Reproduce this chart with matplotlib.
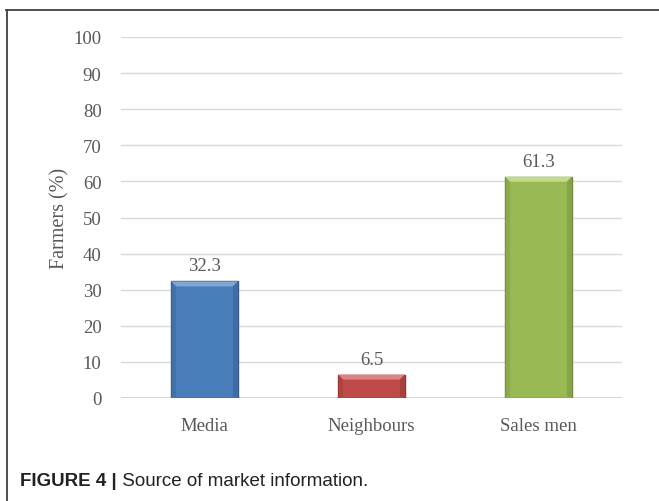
import matplotlib
matplotlib.use("Agg")
import matplotlib.pyplot as plt
from matplotlib.patches import Polygon
from matplotlib.lines import Line2D

categories = ["Media", "Neighbours", "Sales men"]
values = [32.3, 6.5, 61.3]
yticks = [0, 10, 20, 30, 40, 50, 60, 70, 80, 90, 100]
ylabel = "Farmers (%)"
caption_bold = "FIGURE 4 |"
caption_text = " Source of market information."

face_colors = ["#4A7EBB", "#BE4B48", "#98B954"]
edge_colors = ["#35598A", "#8C3633", "#6F8A3C"]
top_colors = ["#7EA6D6", "#DA8583", "#C3DA8E"]
side_colors = ["#3E6BA3", "#A83F3C", "#83A347"]

W, H = 659, 502
fig = plt.figure(figsize=(W / 100, H / 100), dpi=100)
ax = fig.add_axes([121 / W, 1 - 399 / H, (622 - 121) / W, (399 - 38) / H])

serif = ["Liberation Serif", "DejaVu Serif"]
tcol = "#595959"
fs = 13.5

x = list(range(len(categories)))
bars = ax.bar(x, values, width=0.4, color=face_colors, edgecolor=edge_colors,
              linewidth=1.0, zorder=3)

ax.set_xlim(-0.5, len(categories) - 0.5)
ax.set_ylim(0, 100)
ax.set_yticks(yticks)
ax.set_yticklabels([str(v) for v in yticks], fontfamily=serif, fontsize=fs, color=tcol)
ax.set_xticks(x)
ax.set_xticklabels(categories, fontfamily=serif, fontsize=fs, color=tcol)
ax.tick_params(axis="y", length=0, pad=14)
ax.tick_params(axis="x", length=0, pad=14)
ax.grid(axis="y", color="#D9D9D9", linewidth=1.0, zorder=0)
ax.set_axisbelow(True)
for s in ax.spines.values():
    s.set_visible(False)
ax.axhline(0, color="#D0D0D0", linewidth=1.2, zorder=2)

ax.set_ylabel(ylabel, fontfamily=serif, fontsize=14.5, color=tcol, labelpad=3)

# bevel effect derived from each bar's geometry
fig.canvas.draw()
inv = ax.transData.inverted()
bev_px = 5
for b, tc, sc in zip(bars, top_colors, side_colors):
    x0, w, h = b.get_x(), b.get_width(), b.get_height()
    p0 = ax.transData.transform((x0, 0))
    p1 = ax.transData.transform((x0 + w, h))
    dx = inv.transform((p0[0] + bev_px, p0[1]))[0] - x0
    dy = h - inv.transform((p1[0], p1[1] - bev_px))[1]
    top = Polygon([(x0, h), (x0 + w, h), (x0 + w - dx, h - dy), (x0 + dx, h - dy)],
                  closed=True, facecolor=tc, edgecolor="none", zorder=4)
    left = Polygon([(x0, 0), (x0, h), (x0 + dx, h - dy), (x0 + dx, dy * 0.3)],
                   closed=True, facecolor=sc, edgecolor="none", alpha=0.6, zorder=4)
    right = Polygon([(x0 + w, 0), (x0 + w, h), (x0 + w - dx, h - dy), (x0 + w - dx, dy * 0.3)],
                    closed=True, facecolor=sc, edgecolor="none", alpha=0.9, zorder=4)
    for p in (top, left, right):
        ax.add_patch(p)
    ax.annotate(f"{h:.1f}", (x0 + w / 2, h), xytext=(0, 5), textcoords="offset points",
                ha="center", va="bottom", fontfamily=serif, fontsize=fs, color=tcol)

# outer frame (top and left lines)
fig.add_artist(Line2D([6 / W, 1.0], [1 - 11 / H, 1 - 11 / H], transform=fig.transFigure,
                      color="#404040", linewidth=1.3))
fig.add_artist(Line2D([7 / W, 7 / W], [0.0, 1 - 11 / H], transform=fig.transFigure,
                      color="#404040", linewidth=1.3))

sans = ["Liberation Sans", "DejaVu Sans"]
cfs = 13.5
t1 = fig.text(20 / W, 1 - 482 / H, caption_bold, fontfamily=sans, fontweight="bold",
              fontsize=cfs, color="#222222", va="center", ha="left")
fig.canvas.draw()
bb = t1.get_window_extent()
fig.text(bb.x1 / W, 1 - 482 / H, caption_text, fontfamily=sans, fontsize=cfs,
         color="#222222", va="center", ha="left")

fig.savefig("out.png", dpi=100)
